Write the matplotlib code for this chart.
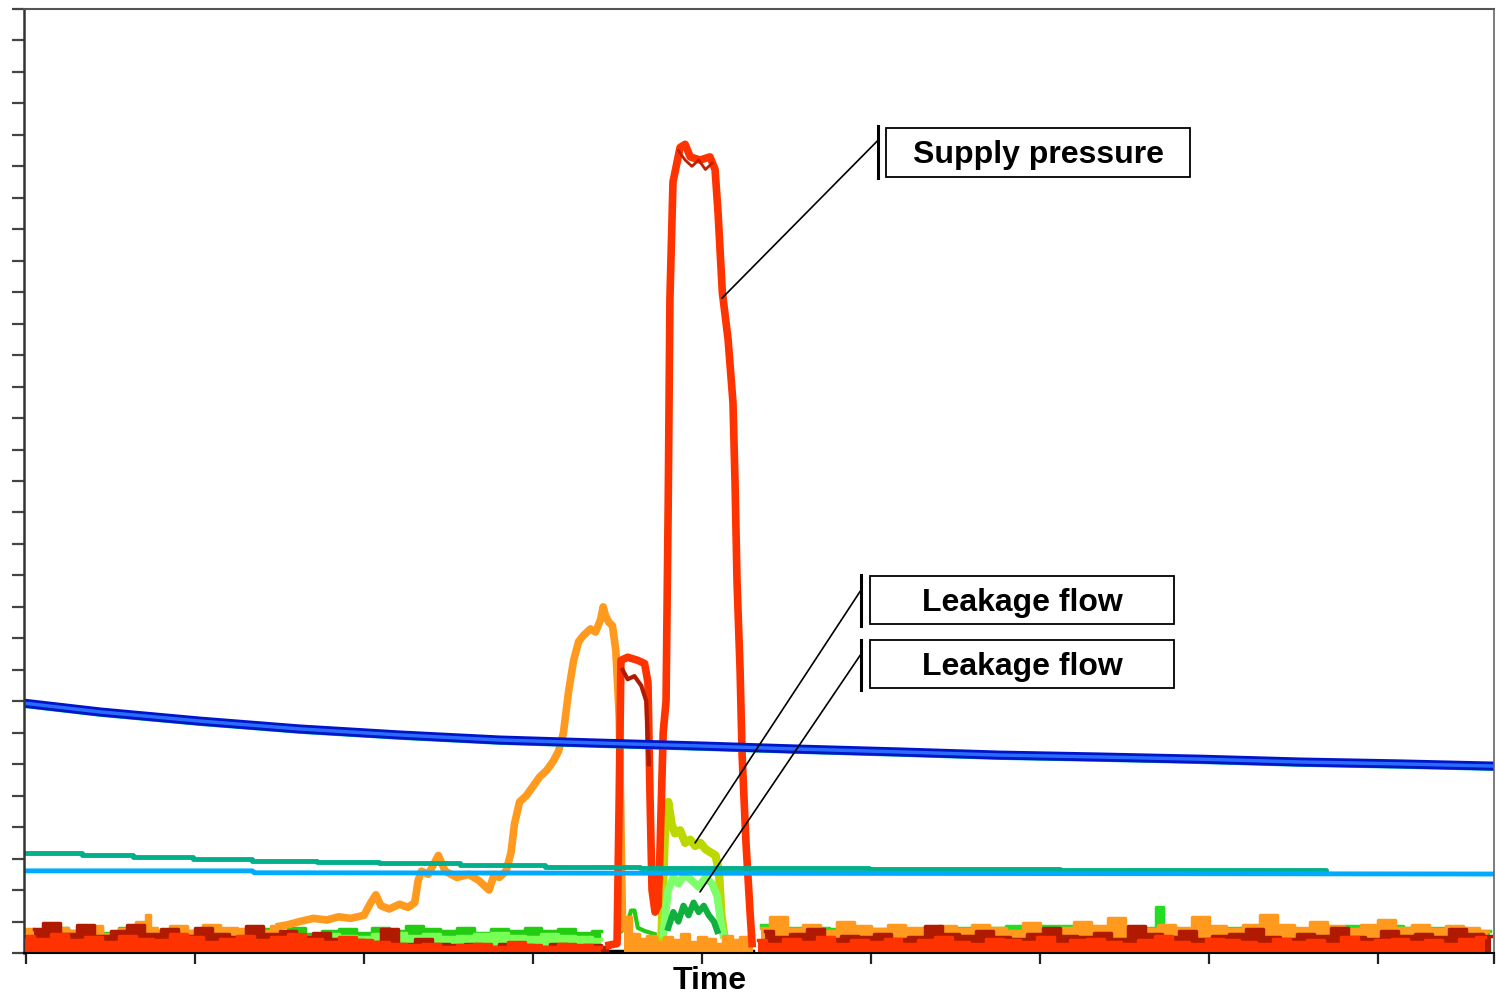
import numpy as np
import matplotlib
matplotlib.use("Agg")
from matplotlib import pyplot as plt
from matplotlib import patheffects as pe
from matplotlib.patches import Rectangle
from matplotlib.lines import Line2D

plt.rcParams['font.family'] = ['Liberation Sans', 'DejaVu Sans']

# ---- data (time in s, values in tick units) ----
blue_t = [-1.2, 44, 103, 162, 221, 280, 340, 399, 458, 517, 576, 635, 695, 754, 813, 868.6]
blue_y = [7.94, 7.66, 7.37, 7.12, 6.93, 6.77, 6.67, 6.58, 6.48, 6.39, 6.29, 6.23, 6.16, 6.07, 6.01, 5.94]

teal_t = [-1.2, 33, 63, 99, 134, 172, 209, 257, 307, 363, 499, 612, 769]
teal_y = [3.18, 3.11, 3.05, 2.99, 2.92, 2.89, 2.86, 2.80, 2.73, 2.70, 2.67, 2.64, 2.61]

cyan_t = [-1.2, 134, 135, 500, 868.6]
cyan_y = [2.61, 2.61, 2.55, 2.53, 2.51]

# supply pressure
red_left = [0.55, 0.45, 0.6, 0.4, 0.5, 0.35, 0.55, 0.45, 0.4, 0.6,
            0.5, 0.35, 0.45, 0.55, 0.4, 0.5, 0.6, 0.45, 0.35, 0.5,
            0.4, 0.35, 0.3, 0.25, 0.3, 0.2, 0.25, 0.3, 0.2, 0.35,
            0.25, 0.2, 0.3, 0.25, 0.2]
pulse_t = [345, 349.7, 351, 352, 356, 362, 366, 368, 369.2, 370.4, 372.2, 374,
           375, 377, 378.7, 380, 381, 382.8, 387, 390, 393, 398.8, 404.7, 407.7,
           409.5, 412, 415.4, 418.3, 419.5, 420.7, 422.5, 423.7, 426, 428.4, 429.6]
pulse_y = [0.25, 0.3, 5.0, 9.3, 9.4, 9.3, 9.2, 8.6, 5.0, 2.0, 1.3, 1.5,
           3.0, 7.0, 8.0, 14.4, 20.8, 24.5, 25.6, 25.7, 25.3, 25.2, 25.3, 24.9,
           23.5, 21.0, 19.5, 17.5, 15.0, 11.8, 9.0, 6.3, 3.5, 1.3, 0.3]
red_right = [0.4, 0.3, 0.45, 0.35, 0.5, 0.3, 0.4, 0.35, 0.45, 0.3,
             0.4, 0.5, 0.35, 0.3, 0.45, 0.4, 0.35, 0.5, 0.3, 0.4,
             0.45, 0.35, 0.3, 0.4, 0.55, 0.35, 0.3, 0.45, 0.4, 0.35,
             0.3, 0.45, 0.35, 0.4, 0.3, 0.5, 0.35, 0.4, 0.45, 0.35,
             0.4, 0.3, 0.45, 0.5]

darkred_left = [0.75, 0.95, 0.6, 0.9, 0.55, 0.7, 0.9, 0.6, 0.75, 0.55,
                0.8, 0.6, 0.5, 0.85, 0.6, 0.7, 0.5, 0.65, 0.45, 0.4,
                0.35, 0.75, 0.3, 0.45, 0.3, 0.25, 0.3, 0.2, 0.3, 0.25,
                0.2, 0.3, 0.2, 0.25, 0.2]
darkred_pulse_t = [353, 356, 360, 364, 367, 368.5]
darkred_pulse_y = [9.0, 8.7, 8.8, 8.5, 8.0, 6.0]
darkred_top_t = [386, 390, 394, 398, 402, 406]
darkred_top_y = [25.5, 25.2, 25.0, 25.2, 24.9, 25.1]
darkred_right = [0.7, 0.5, 0.6, 0.75, 0.45, 0.55, 0.5, 0.6, 0.45, 0.5,
                 0.85, 0.6, 0.55, 0.7, 0.5, 0.45, 0.6, 0.8, 0.55, 0.5,
                 0.65, 0.45, 0.85, 0.6, 0.5, 0.7, 0.45, 0.55, 0.6, 0.75,
                 0.5, 0.45, 0.6, 0.55, 0.8, 0.5, 0.45, 0.7, 0.55, 0.6,
                 0.5, 0.75, 0.6, 0.55]

orange_base_t = [0, 10, 20, 30, 40, 50, 60, 70, 72, 75, 80, 90, 100, 110, 120, 130, 140, 150]
orange_base_y = [0.75, 0.65, 0.8, 0.7, 0.85, 0.6, 0.75, 1.0, 1.2, 0.8, 0.7, 0.85, 0.7, 0.9, 0.8, 0.75, 0.7, 0.85]
orange_rise_t = [150, 155, 162, 170, 178, 185, 192, 200, 204, 207, 210, 215, 221, 226, 230, 232, 234,
                 238, 244, 248, 255, 262, 268, 274, 277, 280, 284, 287, 289, 292, 296, 300, 304,
                 308, 312, 315, 318, 321, 324, 327, 330, 334, 337, 340, 341.5, 343, 345, 347,
                 349, 351, 352, 353]
orange_rise_y = [0.85, 0.9, 1.0, 1.1, 1.05, 1.15, 1.1, 1.2, 1.6, 1.85, 1.5, 1.4, 1.55, 1.45, 1.6, 2.3, 2.6,
                 2.5, 3.1, 2.6, 2.4, 2.5, 2.3, 2.0, 2.5, 2.4, 2.6, 3.2, 4.1, 4.8, 5.0, 5.3, 5.6,
                 5.8, 6.1, 6.4, 7.0, 8.3, 9.3, 9.9, 10.1, 10.3, 10.2, 10.6, 11.0, 10.7, 10.5, 10.4,
                 9.6, 7.5, 4.0, 0.8]
orange_low_t = [354, 356, 360, 365, 370, 375, 380, 385, 390, 395, 400, 405, 410, 415, 420, 425, 430]
orange_low_y = [1.0, 1.15, 0.6, 0.45, 0.55, 0.35, 0.5, 0.4, 0.6, 0.35, 0.5, 0.45, 0.3, 0.55, 0.4, 0.5, 0.6]
orange_right = [0.8, 1.15, 0.75, 0.9, 0.7, 1.0, 0.85, 0.75, 0.9, 0.8,
                0.7, 0.85, 0.75, 0.9, 0.8, 0.7, 0.95, 0.75, 0.8, 1.0,
                0.85, 1.1, 0.8, 0.75, 0.9, 0.8, 1.15, 0.85, 0.75, 0.9,
                1.2, 0.9, 0.8, 1.0, 0.85, 0.75, 0.9, 1.05, 0.8, 0.9,
                0.75, 0.85, 0.8, 0.7]

green_left = [0.7, 0.65, 0.8, 0.7, 0.75, 0.65, 0.8, 0.7, 0.6, 0.75,
              0.7, 0.8, 0.65, 0.7, 0.75, 0.65, 0.8, 0.6, 0.7, 0.75,
              0.65, 0.8, 0.7, 0.85, 0.75, 0.7, 0.8, 0.65, 0.75, 0.7,
              0.8, 0.7, 0.75, 0.65, 0.7]
green_mid_t = [350, 355, 358, 360, 362, 366, 372]
green_mid_y = [0.6, 0.8, 1.35, 1.35, 0.8, 0.7, 0.6]
green_right_t = [435, 450, 500, 560, 600, 640, 668, 669, 672, 673, 690, 720, 760, 800, 830, 850, 866]
green_right_y = [0.9, 0.8, 0.75, 0.8, 0.85, 0.75, 0.8, 1.45, 1.45, 0.8, 0.75, 0.8, 0.7, 0.85, 0.8, 0.75, 0.7]

lightgreen_left = [0.55, 0.5, 0.6, 0.55, 0.5, 0.6, 0.65, 0.55, 0.6, 0.5,
                   0.55, 0.6, 0.65, 0.55, 0.5, 0.6, 0.55, 0.5, 0.45]

# leakage flows
ygreen_t = [376, 378, 380, 382, 384, 387, 390, 393, 396, 399, 402, 405, 408, 410, 411.5, 413]
ygreen_y = [0.5, 3.8, 4.8, 4.1, 3.8, 3.9, 3.5, 3.6, 3.4, 3.5, 3.3, 3.2, 3.1, 2.6, 1.2, 0.6]
lgreen_t = [377, 380, 383, 386, 390, 394, 398, 402, 406, 409, 411, 412.5]
lgreen_y = [0.6, 2.0, 2.4, 2.2, 2.5, 2.3, 2.1, 2.4, 2.2, 1.8, 1.0, 0.6]
dgreen_t = [380, 383, 386, 389, 392, 395, 398, 401, 404, 407, 409]
dgreen_y = [0.8, 1.3, 1.0, 1.5, 1.2, 1.6, 1.3, 1.5, 1.2, 1.0, 0.7]

black_t = [160, 430]
black_y = [0.06, 0.06]

x_ticks = [0, 100, 200, 300, 400, 500, 600, 700, 800, 868.6]

RED = '#ff3300'
DARKRED = '#b01a00'
ORANGE = '#ff9a1e'
GREEN = '#22cc11'
LGREEN = '#77ff55'

# ---- figure ----
fig = plt.figure(figsize=(14.96, 9.94), dpi=100)
ax = fig.add_axes([24 / 1496, 41 / 994, 1470 / 1496, 944 / 994])

t_left = np.arange(0, 345, 10)
t_left_dr = np.arange(5, 350, 10)
t_right = np.arange(433, 866, 10)
t_right_dr = np.arange(437, 870, 10)
t_right_or = np.arange(435, 868, 10)
t_lg = np.arange(160, 345, 10)


def band(t, y, color, z, lw=2.5):
    ax.fill_between(t, 0, y, step='mid', color=color, lw=0, zorder=z)
    ax.step(t, y, where='mid', color=color, lw=lw, zorder=z, solid_joinstyle='round')


ax.plot(black_t, black_y, color='black', lw=2.5, zorder=1)
band(t_left, green_left, GREEN, 2)
band(t_lg, lightgreen_left, LGREEN, 2.1)
ax.plot(green_mid_t, green_mid_y, color=GREEN, lw=3, zorder=2)
band(green_right_t, green_right_y, '#22dd22', 2)

ax.plot(ygreen_t, ygreen_y, color='#bcd800', lw=6, zorder=3)
ax.plot(lgreen_t, lgreen_y, color='#7cff6a', lw=5.5, zorder=3.1)
ax.plot(dgreen_t, dgreen_y, color='#10b040', lw=4.5, zorder=3.2)

band(orange_base_t, orange_base_y, ORANGE, 4)
ax.plot(orange_rise_t, orange_rise_y, color=ORANGE, lw=5.5, zorder=4)
band(orange_low_t, orange_low_y, ORANGE, 4)
band(t_right_or, orange_right, ORANGE, 4)

band(t_left_dr, darkred_left, DARKRED, 5)
band(t_right_dr, darkred_right, DARKRED, 5)

band(t_left, red_left, RED, 6)
band(t_right, red_right, RED, 6)
ax.plot(pulse_t, pulse_y, color=RED, lw=5.5, zorder=6)
ax.plot(darkred_pulse_t, darkred_pulse_y, color=DARKRED, lw=3, zorder=6.5)
ax.plot(darkred_top_t, darkred_top_y, color='#c02000', lw=2, zorder=6.5)

ax.plot(teal_t, teal_y, color='#00b08c', lw=3.5, drawstyle='steps-post', zorder=7)
ax.plot(cyan_t, cyan_y, color='#00aaff', lw=3.5, zorder=7.5)
ax.plot(blue_t, blue_y, color='#2a6cff', lw=2.5, zorder=8,
        path_effects=[pe.SimpleLineShadow(offset=(0, -2.5), shadow_color='#00b4a0', alpha=1, linewidth=2),
                      pe.Stroke(linewidth=6.5, foreground='#0014c8'), pe.Normal()])

ax.set_xlim(-1.2, 868.6)
ax.set_ylim(0, 30)
ax.set_xticks(x_ticks)
ax.set_xticklabels([])
ax.set_yticks(np.arange(0, 31, 1))
ax.set_yticklabels([])
ax.tick_params(axis='y', direction='out', length=9, width=1.6, color='#444444')
ax.tick_params(axis='x', direction='out', length=8, width=1.6, color='#222222')

ax.spines['left'].set_linewidth(1.8)
ax.spines['left'].set_color('#333333')
ax.spines['top'].set_linewidth(1.5)
ax.spines['top'].set_color('#555555')
ax.spines['right'].set_linewidth(1.2)
ax.spines['right'].set_color('#666666')
ax.spines['bottom'].set_linewidth(1.5)
ax.spines['bottom'].set_color('black')
for s in ax.spines.values():
    s.set_zorder(10)

ax.text(0.4667, -0.0295, 'Time', transform=ax.transAxes, ha='center', va='center',
        fontsize=23, fontweight='bold')


def label(text, cx, cy, w, h, bar_x, bar_y0, bar_y1, anchor, xy):
    ax.add_patch(Rectangle((cx - w / 2, cy - h / 2), w, h, transform=ax.transAxes,
                           facecolor='white', edgecolor='black', lw=1.3, zorder=20))
    ax.add_line(Line2D([bar_x, bar_x], [bar_y0, bar_y1], transform=ax.transAxes,
                       color='black', lw=2.2, zorder=20))
    ax.text(cx, cy - 0.003, text, transform=ax.transAxes, ha='center', va='center',
            fontsize=23, fontweight='bold', zorder=21)
    ax.annotate('', xy=xy, xycoords='data', xytext=anchor, textcoords='axes fraction',
                arrowprops=dict(arrowstyle='-', color='black', lw=1.2,
                                shrinkA=0, shrinkB=0), zorder=19)


label('Supply pressure', 0.690, 0.848, 0.2068, 0.0519, 0.581, 0.876, 0.821,
      (0.581, 0.861), (411.8, 20.81))
label('Leakage flow', 0.679, 0.374, 0.2068, 0.0508, 0.5694, 0.400, 0.346,
      (0.5694, 0.3845), (395.9, 3.50))
label('Leakage flow', 0.679, 0.306, 0.2068, 0.0508, 0.5694, 0.3316, 0.2786,
      (0.5694, 0.3167), (398.8, 1.94))

fig.savefig('out.png', dpi=100)
